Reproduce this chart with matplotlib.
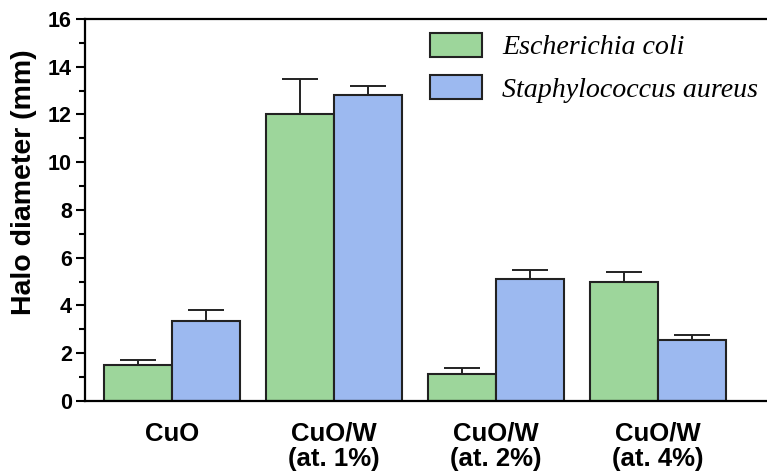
import numpy as np
import matplotlib.pyplot as plt

# Halo diameters (mm) for each sample, with upper error
samples = ["CuO", "CuO/W\n(at. 1%)", "CuO/W\n(at. 2%)", "CuO/W\n(at. 4%)"]
ecoli = [1.5, 12.0, 1.15, 5.0]
ecoli_err = [0.2, 1.5, 0.25, 0.4]
saureus = [3.35, 12.8, 5.1, 2.55]
saureus_err = [0.45, 0.4, 0.38, 0.22]

green = "#9dd69b"
blue = "#9cb9f0"

fig = plt.figure(figsize=(7.67, 4.74), dpi=100)
ax = fig.add_axes([0.111, 0.154, 0.895, 0.806])

x = np.arange(len(samples))
w = 0.42
zeros = [0] * len(samples)
ax.bar(x - w / 2, ecoli, w, color=green, edgecolor="#222222", linewidth=1.5,
       yerr=[zeros, ecoli_err], capsize=13,
       error_kw=dict(elinewidth=1.4, capthick=1.4, ecolor="#222222"),
       label="Escherichia coli", zorder=2)
ax.bar(x + w / 2, saureus, w, color=blue, edgecolor="#222222", linewidth=1.5,
       yerr=[zeros, saureus_err], capsize=13,
       error_kw=dict(elinewidth=1.4, capthick=1.4, ecolor="#222222"),
       label="Staphylococcus aureus", zorder=2)

ax.set_xlim(-0.534, 3.7)
ax.set_ylim(0, 16)
ax.set_yticks(range(0, 17, 2))
ax.set_yticks(range(1, 16, 2), minor=True)
ax.set_xticks(x)
ax.set_xticklabels(samples, fontsize=18.5, fontweight="bold", family="Liberation Sans",
                   linespacing=1.08)
ax.tick_params(axis="x", length=0, pad=15)
ax.tick_params(axis="y", which="major", length=6.5, width=1.5, direction="out", pad=3)
ax.tick_params(axis="y", which="minor", length=4, width=1.5, direction="out")
for lbl in ax.get_yticklabels():
    lbl.set_fontsize(15.5)
    lbl.set_fontweight("bold")
    lbl.set_family("Liberation Sans")

ax.set_ylabel("Halo diameter (mm)", fontsize=20.5, fontweight="bold",
              family="Liberation Sans")
ax.yaxis.set_label_coords(-0.07, 0.573)

for side in ["left", "bottom", "top"]:
    ax.spines[side].set_linewidth(1.6)
ax.spines["right"].set_visible(False)

leg = ax.legend(loc="upper left", bbox_to_anchor=(0.482, 1.0), frameon=False,
                prop=dict(family="Liberation Serif", style="italic", size=20.2),
                handlelength=1.85, handleheight=0.92, handletextpad=0.72,
                labelspacing=0.52, borderaxespad=0.1)
for h in leg.legend_handles:
    h.set_linewidth(1.5)

fig.savefig("out.png", dpi=100)
